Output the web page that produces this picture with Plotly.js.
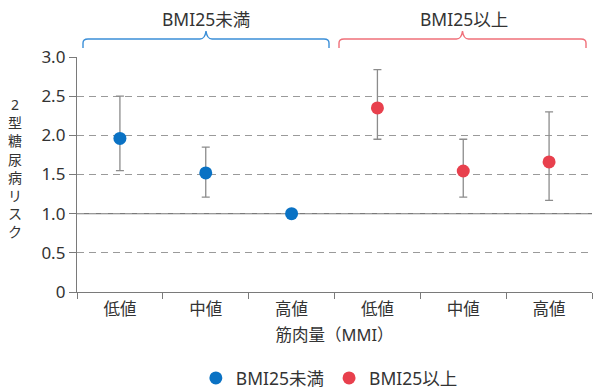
<!DOCTYPE html>
<html>
<head>
<meta charset="utf-8">
<script src="https://cdn.plot.ly/plotly-3.0.1.min.js"></script>
<style>html,body{margin:0;padding:0;background:#fff;}#chart{width:600px;height:391px;}</style>
</head>
<body>
<div id="chart"></div>
<script>
// ---- data ----
const categories = ['低値', '中値', '高値'];
const groupNames = ['BMI25未満', 'BMI25以上'];
const blueValues = [1.96, 1.52, 1.00];
const blueUpper = [2.50, 1.85, NaN];
const blueLower = [1.55, 1.21, NaN];
const redValues = [2.35, 1.545, 1.66];
const redUpper = [2.84, 1.95, 2.30];
const redLower = [1.95, 1.21, 1.17];
const yTickVals = [0, 0.5, 1.0, 1.5, 2.0, 2.5, 3.0];
const yTickText = ['0', '0.5', '1.0', '1.5', '2.0', '2.5', '3.0'];
const yTitle = '2型糖尿病リスク';
const xTitle = '筋肉量（MMI）';

// ---- layout constants ----
const W = 600, H = 391;
const M = {l: 77, r: 8, t: 57, b: 99, autoexpand: false};
const PW = W - M.l - M.r, PH = H - M.t - M.b;
const px2x = p => (p - M.l) / PW;
const px2y = p => (H - M.b - p) / PH;
const FONT = '"Noto Sans", "Noto Sans CJK JP", sans-serif';
const TXT = '#333333';
const BLUE = '#0a72c4';
const RED = '#e8404d';

const xBlue = categories.map((c, i) => i);
const xRed = categories.map((c, i) => i + categories.length);

function errTrace(name, xs, vals, up, lo, color) {
  return {
    type: 'scatter', mode: 'markers', name: name,
    x: xs, y: vals,
    marker: {color: color, size: 13},
    error_y: {
      type: 'data', symmetric: false,
      array: up.map((u, i) => u - vals[i]),
      arrayminus: lo.map((l, i) => vals[i] - l),
      color: '#8c8c8c', thickness: 1.3, width: 4
    },
    hoverinfo: 'x+y'
  };
}

const traces = [
  errTrace(groupNames[0], xBlue, blueValues, blueUpper, blueLower, BLUE),
  errTrace(groupNames[1], xRed, redValues, redUpper, redLower, RED)
];

function brace(x0, x1, color) {
  const xm = (x0 + x1) / 2;
  const yb = 48, yt = 39, yp = 31;
  const P = (x, y) => px2x(x).toFixed(5) + ',' + px2y(y).toFixed(5);
  const d = 'M' + P(x0, yb) + ' L' + P(x0, yt + 4) + ' Q' + P(x0, yt) + ' ' + P(x0 + 5, yt) +
    ' L' + P(xm - 6, yt) + ' Q' + P(xm - 1, yt) + ' ' + P(xm, yp) +
    ' Q' + P(xm + 1, yt) + ' ' + P(xm + 6, yt) +
    ' L' + P(x1 - 5, yt) + ' Q' + P(x1, yt) + ' ' + P(x1, yt + 4) + ' L' + P(x1, yb);
  return {type: 'path', xref: 'paper', yref: 'paper', path: d,
    line: {color: color, width: 1.4}, layer: 'above'};
}

const shapes = [
  {type: 'line', xref: 'paper', yref: 'y', x0: 0, x1: 1, y0: 1, y1: 1,
   line: {color: '#7a7a7a', width: 1.2}, layer: 'below'},
  brace(83, 329, '#3b8fd8'),
  brace(339, 586, '#f0707a')
];

const annotations = [
  {xref: 'paper', yref: 'paper', x: px2x(206), y: px2y(19), text: groupNames[0],
   showarrow: false, xanchor: 'center', yanchor: 'middle', font: {family: FONT, size: 17.5, color: TXT}},
  {xref: 'paper', yref: 'paper', x: px2x(464), y: px2y(19), text: groupNames[1],
   showarrow: false, xanchor: 'center', yanchor: 'middle', font: {family: FONT, size: 17.5, color: TXT}},
  // vertical y-axis title, one character per line
  {xref: 'paper', yref: 'paper', x: px2x(15), y: px2y(168),
   text: Array.from(yTitle).join('<br>'), showarrow: false,
   xanchor: 'center', yanchor: 'middle', align: 'center',
   font: {family: FONT, size: 14, color: TXT}}
];

const layout = {
  width: W, height: H,
  margin: M,
  paper_bgcolor: '#fff', plot_bgcolor: '#fff',
  font: {family: FONT, color: TXT, size: 16},
  showlegend: true,
  legend: {orientation: 'h', x: 0.49, xanchor: 'center', y: px2y(378), yanchor: 'middle',
    font: {family: FONT, size: 17.5, color: TXT}, itemwidth: 30, traceorder: 'normal'},
  xaxis: {
    range: [-0.5, 5.5], fixedrange: true,
    tickmode: 'array', tickvals: xBlue.concat(xRed), ticktext: categories.concat(categories),
    ticks: '', tickfont: {family: FONT, size: 16.5, color: TXT},
    ticklabelstandoff: 2,
    minor: {tickmode: 'linear', tick0: -0.5, dtick: 1, ticks: 'outside', ticklen: 6,
            tickcolor: '#7a7a7a', tickwidth: 1, showgrid: false},
    showline: true, linecolor: '#7a7a7a', linewidth: 1.2,
    showgrid: false, zeroline: false,
    title: {text: xTitle, font: {family: FONT, size: 16.5, color: TXT}, standoff: 10},
    automargin: false
  },
  yaxis: {
    range: [0, 3], fixedrange: true,
    tickmode: 'array', tickvals: yTickVals, ticktext: yTickText,
    ticks: 'outside', ticklen: 7, tickcolor: '#7a7a7a', tickwidth: 1,
    tickfont: {family: FONT, size: 17, color: TXT},
    showline: true, linecolor: '#7a7a7a', linewidth: 1.2,
    showgrid: true, gridcolor: '#9a9a9a', gridwidth: 1, griddash: '7px,5px',
    zeroline: false, automargin: false
  },
  shapes: shapes,
  annotations: annotations
};

Plotly.newPlot('chart', traces, layout, {displayModeBar: false, staticPlot: true});
</script>
</body>
</html>
